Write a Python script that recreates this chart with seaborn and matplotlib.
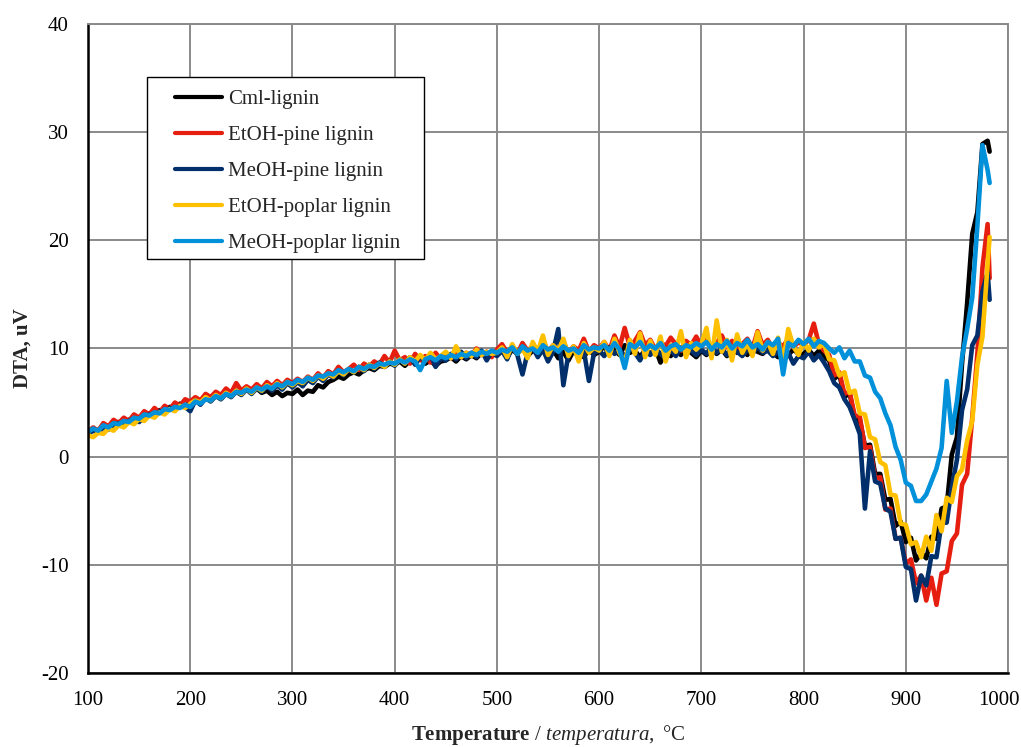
import numpy as np
import pandas as pd
import matplotlib
matplotlib.use("Agg")
import matplotlib.pyplot as plt
import matplotlib.transforms as mtransforms
import seaborn as sns
from matplotlib.patches import Rectangle
from matplotlib.lines import Line2D

# ---------------- data (5 °C steps) ----------------
temperature = list(range(100, 981, 5)) + [982]

cml_lignin = [
    2.2, 2.5, 2.3, 2.8, 2.6, 3.0, 3.2, 2.9, 3.4, 3.6, 3.3, 3.8, 4.0, 3.9, 4.3, 4.2, 4.6, 4.4, 4.9, 4.7,
    5.0, 5.3, 4.9, 5.5, 5.4, 5.8, 5.6, 5.9, 5.7, 6.1, 5.9, 6.2, 6.0, 6.3, 5.9, 6.1, 5.7, 6.0, 5.6, 5.9,
    5.8, 6.2, 5.7, 6.1, 6.0, 6.6, 6.4, 6.9, 7.1, 7.4, 7.2, 7.6, 7.8, 7.6, 8.0, 8.2, 8.0, 8.4, 8.3, 8.6,
    8.5, 8.8, 8.4, 8.9, 8.7, 9.1, 8.6, 8.9, 8.4, 8.8, 8.9, 9.2, 8.8, 9.3, 9.0, 9.4, 9.1, 9.6, 9.3, 9.5,
    9.4, 9.8, 9.2, 9.9, 9.5, 10.1, 9.3, 9.8, 9.6, 10.2, 9.4, 9.9, 9.1, 9.7, 8.9, 9.8, 9.5, 9.2, 9.9, 9.4,
    9.7, 10.2, 9.5, 9.9, 9.4, 10.3, 9.6, 9.8, 9.2, 9.9, 9.5, 10.0, 8.7, 9.6, 9.3, 9.9, 9.4, 10.1, 9.6, 9.2,
    9.8, 9.4, 10.0, 9.5, 9.9, 9.3, 10.1, 9.6, 9.9, 9.4, 10.2, 9.7, 9.5, 10.0, 9.6, 9.2, 9.8, 9.4, 9.9, 9.5,
    9.5, 9.9, 9.3, 9.8, 9.2, 8.9, 7.2, 7.6, 5.5, 5.9, 3.5, 3.4, 1.0, 1.1, -1.6, -1.6, -4.0, -3.9, -6.4, -6.0,
    -7.9, -7.5, -9.6, -8.9, -9.4, -7.4, -7.6, -4.8, -4.6, 0.2, 1.8, 8.6, 14.2, 20.6, 22.6, 28.9, 29.2, 28.2,
]

etoh_pine = [
    2.3, 2.7, 2.4, 3.1, 2.8, 3.4, 3.1, 3.6, 3.3, 3.9, 3.6, 4.2, 3.9, 4.5, 4.1, 4.7, 4.4, 5.0, 4.7, 5.3,
    5.1, 5.5, 5.2, 5.8, 5.5, 6.0, 5.7, 6.3, 5.9, 6.8, 6.1, 6.5, 6.2, 6.7, 6.3, 6.9, 6.5, 7.0, 6.6, 7.1,
    6.8, 7.2, 6.9, 7.4, 7.1, 7.7, 7.3, 7.9, 7.6, 8.3, 7.8, 8.1, 8.5, 8.0, 8.6, 8.3, 8.8, 8.5, 9.3, 8.7,
    9.8, 8.9, 9.2, 8.6, 9.5, 8.9, 9.3, 8.7, 9.6, 9.0, 9.4, 9.1, 9.8, 9.2, 9.6, 9.3, 10.0, 9.4, 9.7, 9.2,
    9.9, 10.4, 9.6, 10.1, 9.5, 10.5, 9.8, 10.2, 9.4, 10.8, 9.7, 10.3, 9.9, 10.6, 9.6, 10.2, 9.8, 10.9, 9.7, 10.3,
    10.0, 10.6, 9.8, 11.2, 10.1, 11.9, 10.2, 10.7, 11.5, 10.3, 10.8, 9.9, 10.6, 10.2, 11.0, 10.4, 9.8, 10.7, 10.3, 11.1,
    10.2, 10.8, 9.9, 10.5, 11.2, 10.1, 10.7, 9.8, 10.4, 10.9, 10.0, 11.6, 10.3, 10.8, 9.9, 10.5, 10.2, 10.9, 10.1, 10.6,
    10.3, 10.8, 12.3, 10.4, 9.8, 9.4, 7.5, 7.8, 5.8, 6.0, 3.8, 3.7, 0.8, 0.9, -2.0, -1.9, -4.9, -4.8, -7.6, -7.5,
    -9.9, -9.5, -11.7, -11.0, -13.3, -11.2, -13.7, -10.8, -10.6, -7.8, -7.1, -2.6, -1.6, 3.6, 9.5, 17.5, 21.5, 16.5,
]

meoh_pine = [
    2.1, 2.4, 2.2, 2.7, 2.5, 2.9, 3.1, 2.8, 3.3, 3.5, 3.2, 3.7, 3.9, 3.7, 4.2, 4.0, 4.5, 4.3, 4.7, 4.6,
    4.2, 5.2, 4.8, 5.4, 5.1, 5.6, 5.3, 5.8, 5.5, 6.0, 5.7, 6.2, 5.8, 6.3, 6.0, 6.5, 6.1, 6.6, 6.2, 6.8,
    6.4, 6.9, 6.5, 7.1, 6.8, 7.4, 7.0, 7.6, 7.3, 7.9, 7.5, 8.1, 7.8, 8.3, 7.9, 8.5, 8.1, 8.7, 8.3, 8.8,
    8.4, 9.0, 8.6, 9.2, 8.5, 9.3, 8.8, 9.4, 8.3, 9.1, 8.9, 9.5, 9.0, 9.7, 9.1, 9.6, 9.2, 9.8, 8.9, 9.7,
    9.3, 9.8, 9.0, 10.2, 9.4, 7.6, 9.6, 10.1, 9.2, 9.9, 8.8, 9.7, 11.8, 6.6, 9.5, 10.0, 9.1, 9.8, 7.0, 9.6,
    9.8, 9.3, 10.1, 9.5, 9.9, 9.2, 10.2, 9.6, 8.9, 9.8, 9.4, 10.0, 9.5, 9.1, 9.9, 9.3, 10.1, 9.6, 9.8, 9.4,
    9.9, 9.5, 10.2, 9.6, 10.0, 9.4, 10.1, 9.7, 9.3, 9.9, 9.5, 10.2, 9.6, 9.8, 9.3, 9.7, 9.0, 9.6, 8.6, 9.3,
    9.1, 9.7, 8.9, 9.4, 8.7, 7.9, 6.8, 6.4, 5.3, 4.6, 3.4, 2.1, -4.8, 0.5, -2.3, -2.5, -4.8, -5.1, -7.6, -7.5,
    -10.2, -10.4, -13.3, -11.0, -11.9, -9.2, -9.3, -6.1, -6.1, -2.8, -0.3, 4.3, 6.2, 10.3, 11.2, 15.3, 17.0, 14.5,
]

etoh_poplar = [
    2.0, 1.8, 2.2, 2.1, 2.6, 2.4, 2.9, 2.7, 3.2, 3.0, 3.5, 3.3, 3.8, 3.6, 4.1, 3.9, 4.4, 4.2, 4.7, 4.5,
    4.9, 5.2, 5.0, 5.5, 5.2, 5.7, 5.4, 5.9, 5.6, 6.1, 5.8, 6.3, 5.9, 6.4, 6.1, 6.6, 6.3, 6.8, 6.4, 6.9,
    6.6, 7.0, 6.8, 7.3, 7.0, 7.5, 7.2, 7.7, 7.4, 7.9, 7.6, 8.1, 7.8, 8.3, 8.0, 8.5, 8.2, 8.6, 8.3, 8.8,
    8.5, 9.0, 8.6, 9.2, 8.8, 9.4, 8.9, 9.6, 9.0, 9.3, 9.7, 9.1, 10.2, 9.2, 9.6, 9.3, 9.9, 9.4, 9.7, 9.5,
    9.6, 10.1, 9.2, 10.4, 9.5, 10.0, 9.1, 10.6, 9.7, 11.2, 9.4, 10.3, 9.8, 10.9, 9.3, 10.2, 8.8, 10.5, 9.6, 10.1,
    9.8, 10.6, 9.3, 10.9, 9.6, 8.6, 10.8, 9.5, 11.4, 9.2, 10.7, 9.4, 11.1, 8.8, 10.3, 9.7, 11.6, 9.2, 10.5, 9.9,
    10.4, 11.9, 9.1, 12.6, 9.7, 10.8, 8.9, 11.3, 9.6, 10.5, 9.3, 11.5, 9.8, 10.6, 9.5, 11.0, 8.8, 11.8, 10.2, 9.4,
    10.6, 9.8, 10.9, 10.1, 10.4, 9.0, 8.9, 7.5, 7.8, 5.9, 6.1, 4.0, 3.9, 1.8, 1.6, -0.5, -0.8, -3.5, -3.6, -6.2,
    -6.3, -8.1, -7.9, -9.3, -7.4, -8.7, -5.4, -6.9, -3.8, -4.2, -1.8, -1.2, 1.5, 3.3, 8.5, 11.1, 17.8, 20.3,
]

meoh_poplar = [
    2.3, 2.6, 2.4, 2.9, 2.7, 3.1, 3.0, 3.3, 3.2, 3.6, 3.5, 3.9, 3.8, 4.1, 4.0, 4.4, 4.3, 4.6, 4.5, 4.8,
    4.6, 5.1, 4.9, 5.3, 5.2, 5.6, 5.4, 5.8, 5.6, 6.0, 5.9, 6.2, 6.0, 6.4, 6.2, 6.5, 6.3, 6.7, 6.5, 6.9,
    6.7, 7.1, 6.9, 7.3, 7.1, 7.5, 7.4, 7.7, 7.6, 8.0, 7.8, 8.1, 7.9, 8.3, 8.1, 8.4, 8.3, 8.6, 8.5, 8.7,
    8.6, 8.9, 8.7, 9.0, 8.8, 8.0, 9.0, 9.2, 8.9, 9.3, 9.1, 9.4, 9.2, 9.5, 9.3, 9.6, 9.4, 9.7, 9.5, 9.8,
    9.6, 9.9, 9.7, 10.1, 9.5, 10.2, 9.8, 10.0, 9.6, 10.3, 9.9, 10.1, 9.7, 10.2, 9.8, 10.0, 9.6, 10.3, 9.9, 10.1,
    10.0, 10.3, 9.8, 10.5, 9.9, 8.2, 10.4, 10.1, 10.6, 9.9, 10.3, 10.0, 10.5, 9.8, 10.2, 10.4, 9.9, 10.3, 10.1, 10.5,
    10.2, 10.6, 9.9, 10.4, 10.1, 10.7, 10.0, 10.5, 10.2, 10.8, 10.1, 10.4, 9.9, 10.6, 10.3, 10.9, 7.6, 10.5, 10.2, 10.8,
    10.4, 10.9, 10.2, 10.7, 10.5, 10.0, 9.6, 10.1, 9.1, 9.8, 8.8, 8.8, 7.5, 7.3, 6.0, 5.4, 4.0, 2.9, 0.9, -0.3,
    -2.4, -2.7, -4.1, -4.1, -3.5, -2.3, -1.1, 0.8, 7.0, 2.2, 5.1, 9.2, 11.8, 14.7, 21.3, 28.8, 26.5, 25.3,
]

series_names = ["Cml-lignin", "EtOH-pine lignin", "MeOH-pine lignin",
                "EtOH-poplar lignin", "MeOH-poplar lignin"]
series_values = [cml_lignin, etoh_pine, meoh_pine, etoh_poplar, meoh_poplar]
series_colors = ["#000000", "#E61E10", "#002F6C", "#FFC000", "#0091DA"]

x_ticks = list(range(100, 1001, 100))
y_ticks = list(range(-20, 41, 10))

# ---------------- build long table ----------------
frames = []
for name, vals in zip(series_names, series_values):
    assert len(vals) == len(temperature), (name, len(vals))
    frames.append(pd.DataFrame({"T": temperature, "DTA": vals, "series": name}))
df = pd.concat(frames, ignore_index=True)

# ---------------- style ----------------
sns.set_theme(style="white")
plt.rcParams["font.family"] = ["Liberation Serif", "DejaVu Serif"]
plt.rcParams["axes.unicode_minus"] = False
plt.rcParams["mathtext.fontset"] = "custom"
plt.rcParams["mathtext.rm"] = "Liberation Serif"
plt.rcParams["mathtext.it"] = "Liberation Serif:italic"
plt.rcParams["mathtext.bf"] = "Liberation Serif:bold"

fig = plt.figure(figsize=(10.21, 7.47), dpi=100)
ax = fig.add_axes([0.0862, 0.0991, 0.9011, 0.8688])

palette = dict(zip(series_names, series_colors))
sns.lineplot(data=df, x="T", y="DTA", hue="series", hue_order=series_names,
             palette=palette, estimator=None, sort=False, linewidth=3.3,
             legend=False, ax=ax)

ax.set_xlim(100, 1000)
ax.set_ylim(-20, 40)
ax.set_xticks(x_ticks)
ax.set_yticks(y_ticks)
ax.grid(True, color="#8a8a8a", linewidth=1.4)
ax.set_axisbelow(True)
for s in ["top", "right"]:
    ax.spines[s].set_color("#8a8a8a")
    ax.spines[s].set_linewidth(1.4)
for s in ["left", "bottom"]:
    ax.spines[s].set_color("black")
    ax.spines[s].set_linewidth(1.8)
ax.tick_params(axis="both", length=0, labelsize=15, colors="black")
ax.tick_params(axis="x", pad=13)
ax.tick_params(axis="y", pad=14)

# last x tick label is pulled inward, as in the reference
last = ax.get_xticklabels()[-1]
last.set_transform(last.get_transform() +
                   mtransforms.ScaledTranslation(-9 / 100, 0, fig.dpi_scale_trans))

ax.set_ylabel("DTA, uV", fontsize=15, fontweight="bold", labelpad=6)
ax.set_xlabel(r"$\mathbf{Temperature}$ / $\mathit{temperatura,}$ °C",
              fontsize=15, labelpad=9)

# legend box and entries
ax.add_patch(Rectangle((0.0645, 0.638), 0.3008, 0.280, transform=ax.transAxes,
                       facecolor="white", edgecolor="black", linewidth=1.0,
                       zorder=5))
handles = [Line2D([0], [0], color=c, linewidth=3.0) for c in series_colors]
leg = ax.legend(handles, series_names, loc="upper left",
                bbox_to_anchor=(0.0946, 0.899), frameon=False, borderpad=0,
                borderaxespad=0, fontsize=15, handlelength=2.25,
                handletextpad=0.3, labelspacing=0.79)
leg.set_zorder(6)

fig.savefig("out.png", dpi=100)
